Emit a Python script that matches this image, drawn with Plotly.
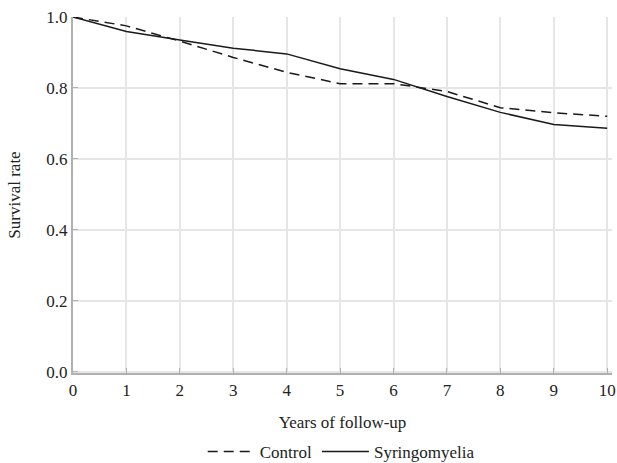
import plotly.graph_objects as go

years = [0, 1, 2, 3, 4, 5, 6, 7, 8, 9, 10]
control = [1.0, 0.975, 0.932, 0.886, 0.844, 0.812, 0.812, 0.79, 0.744, 0.73, 0.72]
syringomyelia = [1.0, 0.959, 0.935, 0.912, 0.896, 0.854, 0.824, 0.776, 0.731, 0.697, 0.686]
y_ticks = [0.0, 0.2, 0.4, 0.6, 0.8, 1.0]
y_tick_labels = ["0.0", "0.2", "0.4", "0.6", "0.8", "1.0"]

FONT = "Liberation Serif"

fig = go.Figure()
fig.add_trace(go.Scatter(x=years, y=control, mode="lines", name="Control",
                         line=dict(color="#1a1a1a", width=1.5, dash="10px,6px")))
fig.add_trace(go.Scatter(x=years, y=syringomyelia, mode="lines", name="Syringomyelia",
                         line=dict(color="#1a1a1a", width=1.5)))

fig.update_layout(
    width=617, height=463,
    margin=dict(l=73, r=5, t=17, b=90),
    paper_bgcolor="white", plot_bgcolor="white",
    font=dict(family=FONT, size=17, color="#222"),
    showlegend=True,
    legend=dict(orientation="h", xref="container", yref="container",
                x=0.553, xanchor="center", y=0.024, yanchor="middle",
                itemwidth=47,
                font=dict(family=FONT, size=17, color="#222")),
)
fig.update_xaxes(range=[0, 10.09], tickvals=years, ticktext=[str(v) for v in years],
                 tickfont=dict(family=FONT, size=17, color="#222"),
                 showgrid=True, gridcolor="#e6e6e6", gridwidth=1.5,
                 showline=True, linecolor="#b0b0b0", linewidth=2,
                 ticks="inside", ticklen=5, tickcolor="#b0b0b0",
                 ticklabelstandoff=1, ticklabeloverflow="allow",
                 automargin=False,
                 title=dict(text="Years of follow-up", standoff=17,
                            font=dict(family=FONT, size=17, color="#222")),
                 zeroline=False)
fig.update_yaxes(range=[-0.004, 1.0], tickvals=y_ticks, ticktext=y_tick_labels,
                 tickfont=dict(family=FONT, size=17, color="#222"),
                 showgrid=True, gridcolor="#e6e6e6", gridwidth=1.5,
                 showline=True, linecolor="#b0b0b0", linewidth=2,
                 ticks="inside", ticklen=5, tickcolor="#b0b0b0",
                 ticklabelstandoff=0, ticklabeloverflow="allow",
                 automargin=False,
                 title=dict(text="Survival rate", standoff=21,
                            font=dict(family=FONT, size=17, color="#222")),
                 zeroline=False)

fig.write_html("out.html",
               config={"displayModeBar": False},
               post_script="document.body.style.margin='0';document.body.style.overflow='hidden';")
